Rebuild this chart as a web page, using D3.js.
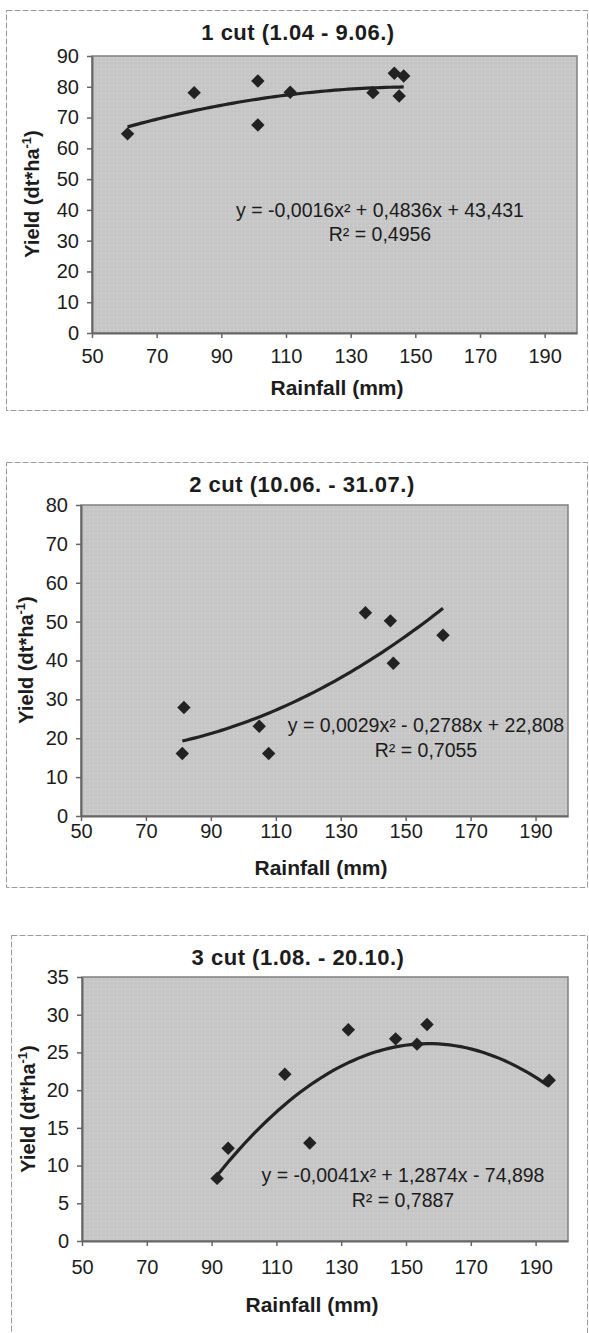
<!DOCTYPE html>
<html><head><meta charset="utf-8">
<script src="https://cdn.jsdelivr.net/npm/d3@7"></script>
<style>
body{margin:0;background:#fff}
svg{display:block}
text{font-family:"Liberation Sans",Arial,sans-serif;fill:#1c1c1c}
</style>
</head><body>
<svg id="c" width="589" height="1333"></svg>
<script>
// ---- data ----
const titles = ["1 cut (1.04 - 9.06.)", "2 cut (10.06. - 31.07.)", "3 cut (1.08. - 20.10.)"];
const rainfall1 = [61, 81.6, 101.3, 101.3, 111.3, 136.9, 143.5, 146.4, 145];
const yield1    = [64.7, 78.1, 81.9, 67.6, 78.2, 78.1, 84.4, 83.5, 77];
const rainfall2 = [81.7, 81.2, 104.9, 107.8, 137.6, 145.3, 146.2, 161.5];
const yield2    = [27.9, 16.1, 23.1, 16.1, 52.3, 50.2, 39.3, 46.5];
const rainfall3 = [91.7, 95.1, 112.6, 120.3, 132.2, 146.8, 153.4, 156.5, 194.2];
const yield3    = [8.3, 12.3, 22.1, 13.0, 28.0, 26.8, 26.1, 28.7, 21.3];
const trend1 = [-0.0016, 0.4836, 43.431];
const trend2 = [0.0029, -0.2788, 22.808];
const trend3 = [-0.0041, 1.2874, -74.898];
const equations = ["y = -0,0016x² + 0,4836x + 43,431", "y = 0,0029x² - 0,2788x + 22,808", "y = -0,0041x² + 1,2874x - 74,898"];
const r2Labels = ["R² = 0,4956", "R² = 0,7055", "R² = 0,7887"];
const xTicks = [50, 70, 90, 110, 130, 150, 170, 190];
const xDomain = [50, 200];
const yTicks1 = [0, 10, 20, 30, 40, 50, 60, 70, 80, 90];
const yTicks2 = [0, 10, 20, 30, 40, 50, 60, 70, 80];
const yTicks3 = [0, 5, 10, 15, 20, 25, 30, 35];
const xTitle = "Rainfall (mm)";

// ---- layout ----
const panels = [
  {x: rainfall1, y: yield1, trend: trend1, yTicks: yTicks1, title: titles[0], eq: equations[0], r2: r2Labels[0],
   frame: {x: 6, y: 10, w: 581, h: 400}, plot: {l: 92, r: 577, t: 56, b: 333},
   titlePos: [298, 40], xLab: 34, xTitlePos: [337, 395], yTitlePos: [32, 194], eqPos: [380, 217, 241]},
  {x: rainfall2, y: yield2, trend: trend2, yTicks: yTicks2, title: titles[1], eq: equations[1], r2: r2Labels[1],
   frame: {x: 6, y: 462, w: 581, h: 425}, plot: {l: 81, r: 568, t: 505, b: 816},
   titlePos: [302, 492], xLab: 26, xTitlePos: [321, 875], yTitlePos: [26, 660], eqPos: [426, 732, 757]},
  {x: rainfall3, y: yield3, trend: trend3, yTicks: yTicks3, title: titles[2], eq: equations[2], r2: r2Labels[2],
   frame: {x: 11, y: 935, w: 576, h: 430}, plot: {l: 82, r: 568, t: 977, b: 1241},
   titlePos: [298, 965], xLab: 37, xTitlePos: [312, 1312], yTitlePos: [28, 1109], eqPos: [403, 1182, 1207]}
];

const svg = d3.select("#c");
const defs = svg.append("defs");
const pat = defs.append("pattern").attr("id", "dots").attr("width", 4).attr("height", 4)
  .attr("patternUnits", "userSpaceOnUse");
pat.append("rect").attr("width", 4).attr("height", 4).attr("fill", "#c6c6c6");
pat.append("rect").attr("x", 1).attr("y", 1).attr("width", 1).attr("height", 1).attr("fill", "#dddddd");

const diamond = d3.symbol().type(d3.symbolDiamond2).size(115);

panels.forEach(p => {
  const g = svg.append("g");
  // frame
  g.append("rect").attr("x", p.frame.x + 0.5).attr("y", p.frame.y + 0.5)
    .attr("width", p.frame.w).attr("height", p.frame.h)
    .attr("fill", "none").attr("stroke", "#9a9a9a").attr("stroke-width", 1)
    .attr("stroke-dasharray", "6,2");

  const xs = d3.scaleLinear().domain(xDomain).range([p.plot.l, p.plot.r]);
  const ys = d3.scaleLinear().domain([0, d3.max(p.yTicks)]).range([p.plot.b, p.plot.t]);

  // plot area
  g.append("rect").attr("x", xs(xDomain[0])).attr("y", ys(d3.max(p.yTicks)))
    .attr("width", xs(xDomain[1]) - xs(xDomain[0])).attr("height", ys(0) - ys(d3.max(p.yTicks)))
    .attr("fill", "url(#dots)").attr("stroke", "#808080").attr("stroke-width", 1.5);

  // axes
  const ya = g.append("g").attr("transform", `translate(${xs(xDomain[0])},0)`)
    .call(d3.axisLeft(ys).tickValues(p.yTicks).tickSize(5).tickPadding(8).tickSizeOuter(0));
  ya.select(".domain").attr("stroke", "#666").attr("stroke-width", 2);
  ya.selectAll(".tick line").attr("stroke", "#666").attr("stroke-width", 1.5);
  ya.selectAll(".tick text").attr("font-size", 20).attr("fill", "#1c1c1c")
    .attr("font-family", "Liberation Sans, Arial, sans-serif");

  const xa = g.append("g").attr("transform", `translate(0,${ys(0)})`)
    .call(d3.axisBottom(xs).tickValues(xTicks).tickSize(5).tickPadding(p.xLab - 23).tickSizeOuter(0));
  xa.select(".domain").attr("stroke", "#666").attr("stroke-width", 2);
  xa.selectAll(".tick line").attr("stroke", "#666").attr("stroke-width", 1.5);
  xa.selectAll(".tick text").attr("font-size", 20).attr("fill", "#1c1c1c")
    .attr("font-family", "Liberation Sans, Arial, sans-serif");

  // trend line from the displayed equation
  const [a, b, c] = p.trend;
  const xmin = d3.min(p.x), xmax = d3.max(p.x);
  const samples = d3.range(0, 61).map(i => xmin + (xmax - xmin) * i / 60);
  g.append("path").datum(samples)
    .attr("d", d3.line().x(d => xs(d)).y(d => ys(a * d * d + b * d + c)))
    .attr("fill", "none").attr("stroke", "#222").attr("stroke-width", 3.2);

  // points
  g.selectAll("path.pt").data(p.x.map((v, i) => [v, p.y[i]])).enter().append("path")
    .attr("class", "pt")
    .attr("d", diamond)
    .attr("transform", d => `translate(${xs(d[0])},${ys(d[1])})`)
    .attr("fill", "#222");

  // equation
  g.append("text").attr("x", p.eqPos[0]).attr("y", p.eqPos[1]).attr("text-anchor", "middle")
    .attr("font-size", 19.5).attr("fill", "#444").text(p.eq);
  g.append("text").attr("x", p.eqPos[0]).attr("y", p.eqPos[2]).attr("text-anchor", "middle")
    .attr("font-size", 19.5).attr("fill", "#444").text(p.r2);

  // title
  g.append("text").attr("x", p.titlePos[0]).attr("y", p.titlePos[1]).attr("text-anchor", "middle")
    .attr("font-size", 22).attr("font-weight", "bold").attr("letter-spacing", 0.5).text(p.title);
  // x title
  g.append("text").attr("x", p.xTitlePos[0]).attr("y", p.xTitlePos[1]).attr("text-anchor", "middle")
    .attr("font-size", 21).attr("font-weight", "bold").text(xTitle);
  // y title
  const yt = g.append("text")
    .attr("transform", `translate(${p.yTitlePos[0] + 7},${p.yTitlePos[1]}) rotate(-90)`)
    .attr("text-anchor", "middle").attr("font-size", 20).attr("font-weight", "bold");
  yt.append("tspan").text("Yield (dt*ha");
  yt.append("tspan").attr("dy", -8).attr("font-size", 13).text("-1");
  yt.append("tspan").attr("dy", 8).text(")");
});
</script>
</body></html>
